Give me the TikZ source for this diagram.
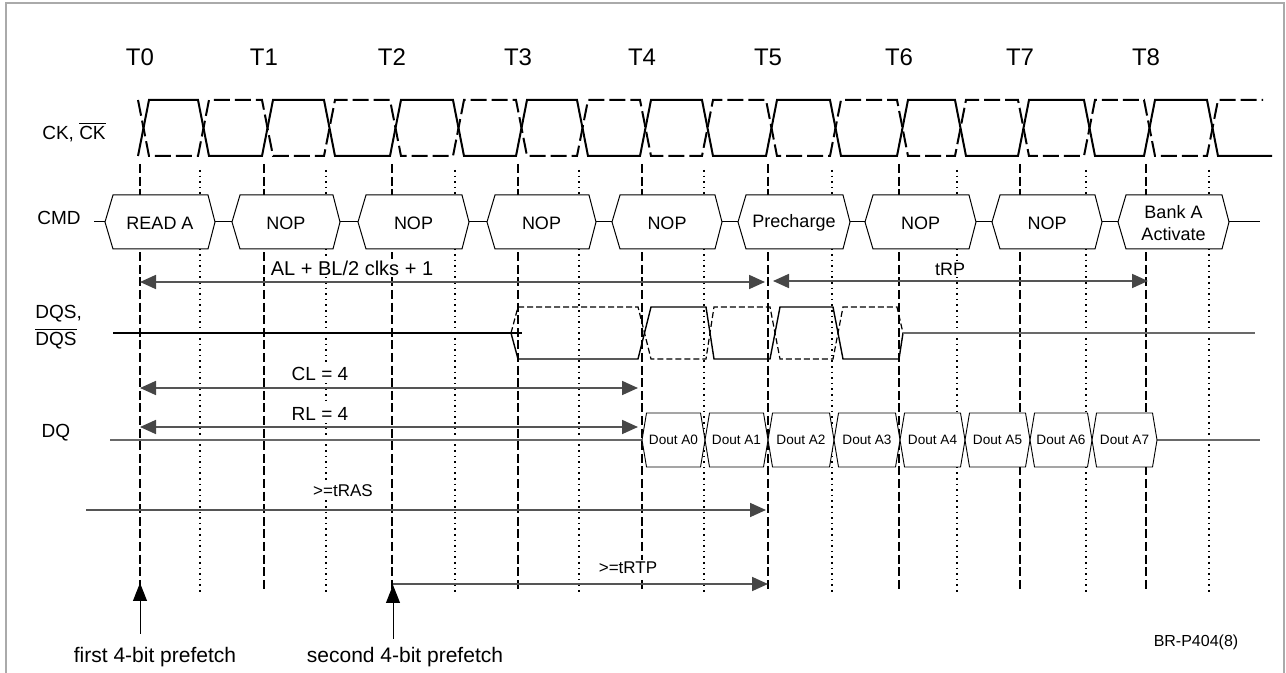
\documentclass[tikz,border=0pt]{standalone}
\usepackage{fontspec}
\setmainfont{Liberation Sans}
\usetikzlibrary{arrows.meta}
\definecolor{framegray}{RGB}{170,170,170}
\definecolor{arrgray}{RGB}{85,85,85}
\definecolor{headgray}{RGB}{70,70,70}
\definecolor{linegray}{RGB}{105,105,105}
\tikzset{
  ckline/.style={line width=1pt, black, line join=miter},
  ckbar/.style={line width=1pt, black, dash pattern=on 8pt off 2.5pt},
  tline/.style={line width=0.9pt, black, dash pattern=on 4.5pt off 1.8pt},
  hline/.style={line width=0.8pt, black, dash pattern=on 0.8pt off 2pt},
  cmdbox/.style={draw=black, line width=0.5pt, fill=white},
  doutbox/.style={draw=black, line width=0.45pt, fill=white},
  sigline/.style={line width=0.7pt, black},
  sigbar/.style={line width=0.6pt, black, dash pattern=on 3pt off 1.5pt},
  graysig/.style={line width=0.8pt, linegray},
  dimline/.style={line width=0.9pt, arrgray},
  onehead/.style={-{Triangle[length=8pt,width=7pt,color=headgray]}},
  twohead/.style={{Triangle[length=8pt,width=7pt,color=headgray]}-{Triangle[length=8pt,width=7pt,color=headgray]}},
  pfarrow/.style={line width=0.5pt, black, -{Triangle[length=9pt,width=7pt]}},
  tlab/.style={font=\fontsize{12}{14}\selectfont, inner sep=0pt},
  siglab/.style={font=\fontsize{9.5}{13.5}\selectfont, inner sep=0pt, align=left},
  cmdtxt/.style={font=\fontsize{9}{11}\selectfont, inner sep=0pt, align=center},
  douttxt/.style={font=\fontsize{6.8}{8}\selectfont, inner sep=0pt},
  dimlab/.style={font=\fontsize{9.5}{11}\selectfont, fill=white, inner sep=1pt},
  notelab/.style={font=\fontsize{10.5}{12}\selectfont, inner sep=0pt},
}
\begin{document}
\begin{tikzpicture}[x=0.5pt, y=-0.5pt]
\useasboundingbox (0,0) rectangle (1286,673);
% frame
\draw[framegray, line width=0.6pt] (6,673) -- (6,3) -- (1284,3) -- (1284,673);

% clock labels
\foreach \t/\k in {140/0,264/1,392/2,518/3,642/4,768/5,899/6,1020/7,1146/8}
  \node[tlab] (lab\k) at (\t,57) {T\k};

% vertical reference lines
\foreach \t in {140,264,392,518,642,768,899,1020,1146}
  \draw[tline] (\t,164) -- (\t,590);
\foreach \h in {200,326,455,579,704,832,957,1086,1209}
  \draw[hline] (\h,170) -- (\h,592);

% CK and CK#
\draw[ckline] (138,156) \foreach \t/\h in {140/200,264/326,392/455,518/579,642/704,768/832,899/957,1020/1086,1146/1209}
  { -- (\t-2,156) -- (\t+9,100) -- (\h-2,100) -- (\h+9,156) } -- (1272,156);
\draw[ckbar] (138,100) \foreach \t/\h in {140/200,264/326,392/455,518/579,642/704,768/832,899/957,1020/1086,1146/1209}
  { -- (\t-2,100) -- (\t+9,156) -- (\h-2,156) -- (\h+9,100) } -- (1263,100);

% signal labels
\node[siglab] (cklab) at (74,132) {CK, $\overline{\mbox{CK}}$};
\node[siglab] (cmdlab) at (59,218) {CMD};
\node[siglab, anchor=west] (dqslab) at (35,327) {DQS,\\$\overline{\mbox{DQS}}$};
\node[siglab] (dqlab) at (56,433) {DQ};

% CMD bus
\coordinate (cmdL) at (94,222);
\coordinate (cmdR) at (1260,222);
\draw[line width=0.5pt] (cmdL) -- (cmdR);
\foreach \l/\r/\n/\txt in {105/215/c0/{READ A},232/340/c1/NOP,358/469/c2/NOP,487/596/c3/NOP,612/722/c4/NOP,738/850/c5/Precharge,865/976/c6/NOP,992/1102/c7/NOP,1118/1229/c8/{Bank A\\Activate}}
{
  \draw[cmdbox] (\l,222) -- (\l+8,195) -- (\r-7,195) -- (\r,222) -- (\r-7,249) -- (\l+8,249) -- cycle;
  \node[cmdtxt] (\n) at ({(\l+\r)/2},223) {\txt};
}

% timing dimension arrows
\coordinate (alL) at (140,282);  \coordinate (alR) at (765,282);
\coordinate (rpL) at (773,281);  \coordinate (rpR) at (1148,281);
\coordinate (clL) at (140,388);  \coordinate (clR) at (638,388);
\coordinate (rlL) at (140,427);  \coordinate (rlR) at (638,427);
\coordinate (rasL) at (86,510);  \coordinate (rasR) at (766,510);
\coordinate (rtpL) at (393,584); \coordinate (rtpR) at (768,584);
\draw[dimline, twohead] (alL) -- (alR);
\draw[dimline, twohead] (rpL) -- (rpR);
\draw[dimline, twohead] (clL) -- (clR);
\draw[dimline, twohead] (rlL) -- (rlR);
\draw[dimline, onehead] (rasL) -- (rasR);
\draw[dimline, onehead] (rtpL) -- (rtpR);
\node[dimlab, font=\fontsize{10}{12}\selectfont] (allab) at (352,268) {AL + BL/2 clks + 1};
\node[dimlab, font=\fontsize{9}{11}\selectfont] (rplab) at (950,269) {tRP};
\node[dimlab] (cllab) at (320,374) {CL = 4};
\node[dimlab] (rllab) at (320,414) {RL = 4};
\node[dimlab, font=\fontsize{8.5}{10}\selectfont] (raslab) at (343,491) {>=tRAS};
\node[dimlab, font=\fontsize{8.5}{10}\selectfont] (rtplab) at (628,568) {>=tRTP};

% DQS / DQS#
\draw[sigline] (113,333) -- (522,333);
\draw[sigline] (511,333) -- (518,359) -- (638,359) -- (651,307) -- (706,307) -- (714,359) -- (770,359) -- (780,307) -- (833,307) -- (843,359) -- (899,359) -- (903,333);
\draw[sigbar] (511,333) -- (518,307) -- (638,307) -- (651,359) -- (706,359) -- (714,307) -- (770,307) -- (780,359) -- (833,359) -- (843,307) -- (897,307) -- (903,333);
\draw[graysig] (903,333) -- (1255,333);

% DQ
\coordinate (dqL) at (110,440);
\coordinate (dqA) at (642,440);
\coordinate (dqB) at (1157,440);
\coordinate (dqR) at (1260,440);
\draw[graysig] (dqL) -- (dqA);
\draw[graysig] (dqB) -- (dqR);
\foreach \l/\r/\k in {642/705/0,705/768/1,768/834/2,834/900/3,900/965/4,965/1030/5,1030/1092/6,1092/1157/7}
{
  \draw[doutbox] (\l,440) -- (\l+4.5,413) -- (\r-4.5,413) -- (\r,440) -- (\r-4.5,467) -- (\l+4.5,467) -- cycle;
  \node[douttxt] (d\k) at ({(\l+\r)/2},440) {Dout A\k};
}

% prefetch markers
\coordinate (pf1s) at (140,634); \coordinate (pf1t) at (140,583);
\coordinate (pf2s) at (393,639); \coordinate (pf2t) at (393,585);
\draw[pfarrow] (pf1s) -- (pf1t);
\draw[pfarrow] (pf2s) -- (pf2t);
\node[notelab] (pf1lab) at (155,657) {first 4-bit prefetch};
\node[notelab] (pf2lab) at (405,657) {second 4-bit prefetch};
\node[notelab, font=\fontsize{8}{10}\selectfont] (brlab) at (1196,642) {BR-P404(8)};
\end{tikzpicture}
\end{document}
